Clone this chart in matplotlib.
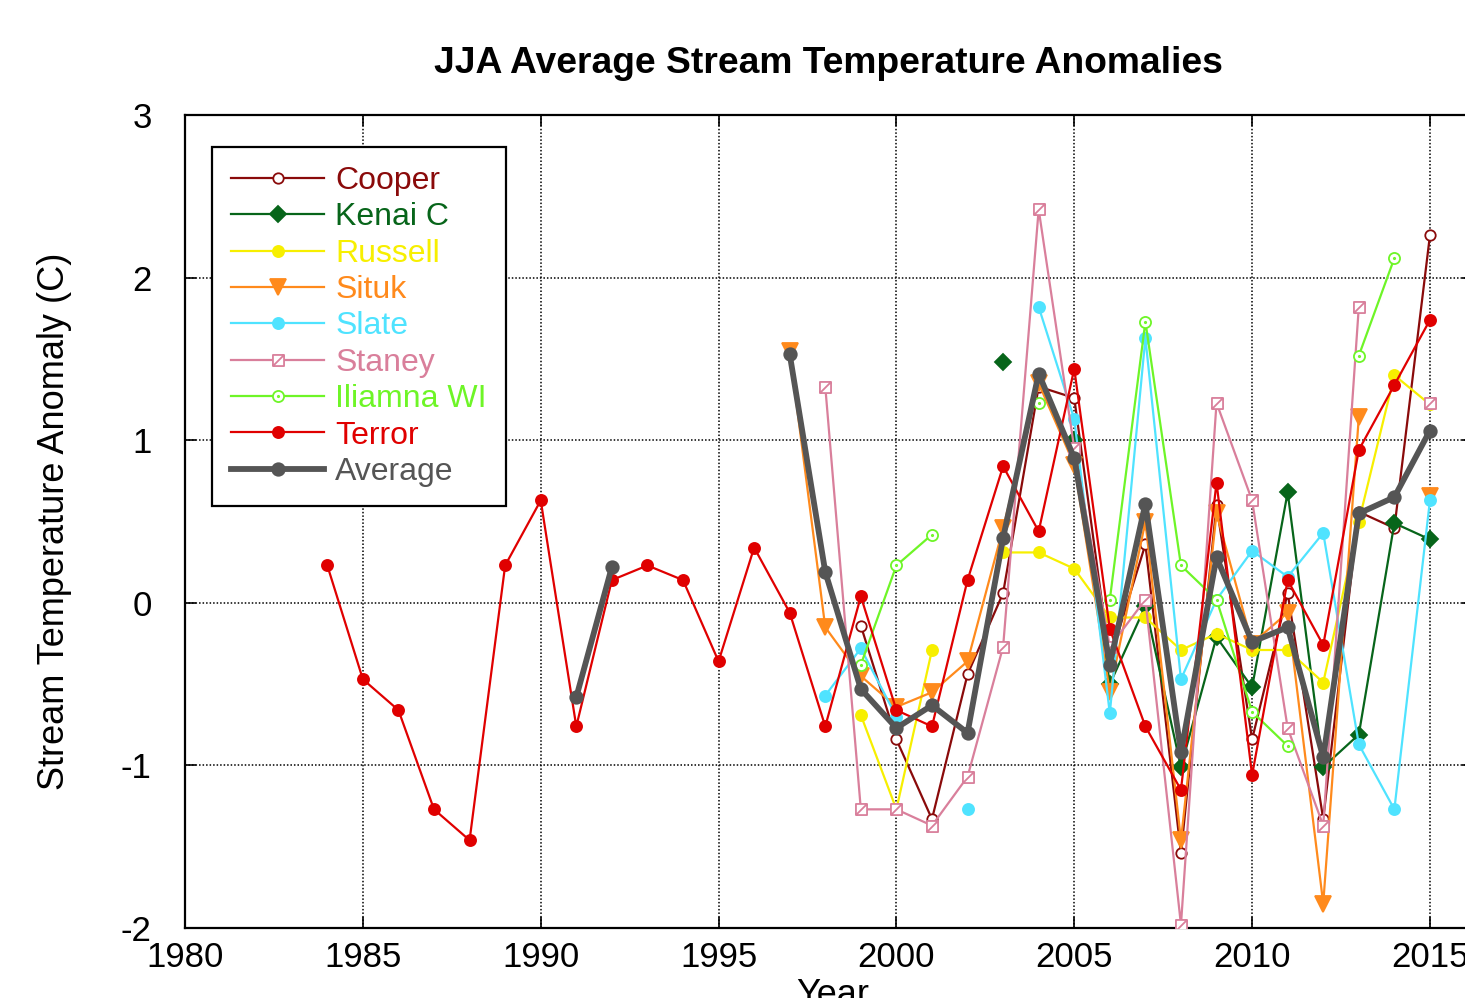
import numpy as np
import matplotlib

matplotlib.use("Agg")
import matplotlib.pyplot as plt
from matplotlib.path import Path

nan = np.nan
years = np.arange(1984, 2016)

# values, one per year 1984..2015 (nan = no data)
cooper = [nan] * 15 + [-0.14, -0.84, -1.33, -0.44, 0.06,
                       1.33, 1.26, -0.35, 0.36, -1.54, 0.60, -0.84, 0.06,
                       -1.33, 0.56, 0.46, 2.26]
kenai = [nan] * 19 + [1.48,
                      nan, 1.00, -0.50, -0.02, -1.01, -0.21, -0.52, 0.68,
                      -1.01, -0.81, 0.49, 0.39]
russell = [nan] * 15 + [-0.69, -1.27, -0.29, nan, 0.31,
                        0.31, 0.21, -0.09, -0.09, -0.29, -0.19, -0.29,
                        -0.29, -0.49, 0.50, 1.40, 1.22]
situk = [nan] * 13 + [1.55, -0.15, -0.45, -0.64, -0.55, -0.36, 0.46,
                      1.35, 0.85, -0.55, 0.50, -1.46, 0.55, -0.25, -0.06,
                      -1.85, 1.14, nan, 0.66]
slate = [nan] * 14 + [-0.57, -0.28, -0.70, nan, -1.27, nan,
                      1.82, 1.13, -0.68, 1.63, -0.47, 0.02, 0.32, 0.16,
                      0.43, -0.87, -1.27, 0.63]
staney = [nan] * 14 + [1.33, -1.27, -1.27, -1.37, -1.07, -0.27,
                       2.42, 0.95, -0.27, 0.02, -1.98, 1.23, 0.63, -0.77,
                       -1.37, 1.82, nan, 1.23]
iliamna = [nan] * 15 + [-0.38, 0.23, 0.42, nan, nan,
                        1.23, nan, 0.02, 1.73, 0.23, 0.02, -0.67, -0.88,
                        nan, 1.52, 2.12, nan]
terror = [0.23, -0.47, -0.66, -1.27, -1.46, 0.23, 0.63, -0.76, 0.14, 0.23,
          0.14, -0.36, 0.34, -0.06, -0.76, 0.04, -0.66, -0.76, 0.14, 0.84,
          0.44, 1.44, -0.16, -0.76, -1.15, 0.74, -1.06, 0.14, -0.26, 0.94,
          1.34, 1.74]
average = [nan] * 7 + [-0.58, 0.22, nan, nan, nan, nan, 1.53, 0.19, -0.53,
                       -0.77, -0.63, -0.80, 0.40, 1.41, 0.89, -0.38, 0.61,
                       -0.92, 0.28, -0.24, -0.15, -0.95, 0.55, 0.65, 1.06]

# markers: open square with a slash, open circle with a centre dot
sq_slash = Path([(-1, -1), (1, -1), (1, 1), (-1, 1), (-1, -1), (-1, -1), (1, 1)],
                [Path.MOVETO, Path.LINETO, Path.LINETO, Path.LINETO,
                 Path.CLOSEPOLY, Path.MOVETO, Path.LINETO])
circ = Path.unit_circle()
dot = Path(circ.vertices * 0.12, circ.codes)
circ_dot = Path.make_compound_path(circ, dot)

series = [
    ("Cooper", cooper, "#8a0a0a", dict(marker="o", mfc="white", ms=7.5)),
    ("Kenai C", kenai, "#07651a", dict(marker="D", ms=8)),
    ("Russell", russell, "#f7ef00", dict(marker="o", ms=8)),
    ("Situk", situk, "#ff8a1c", dict(marker="v", ms=11)),
    ("Slate", slate, "#4fe3ff", dict(marker="o", ms=8)),
    ("Staney", staney, "#d97f9b", dict(marker=sq_slash, mfc="white", ms=8)),
    ("Iliamna WI", iliamna, "#6ef527", dict(marker=circ_dot, mfc="white", ms=8)),
    ("Terror", terror, "#e00000", dict(marker="o", ms=8)),
    ("Average", average, "#555555", dict(marker="o", ms=9)),
]

plt.rcParams["font.family"] = ["Liberation Sans", "DejaVu Sans"]
plt.rcParams["axes.unicode_minus"] = False

fig = plt.figure(figsize=(14.65, 9.98), dpi=100)
# right edge sits just past the picture, as in the cropped original
ax = fig.add_axes([0.1263, 0.0701, 0.8789, 0.8146])

for name, vals, col, mk in series:
    lw = 4.2 if name == "Average" else 1.6
    ax.plot(years, vals, color=col, lw=lw, mec=col, mew=1.3, label=name,
            zorder=3 if name != "Average" else 4, **mk)

ax.set_xlim(1980, 2016.2)
ax.set_ylim(-2, 3)
ax.set_xticks(np.arange(1980, 2016, 5))
ax.set_yticks([-2, -1, 0, 1, 2, 3])
ax.tick_params(direction="in", length=8, width=1.2, labelsize=25,
               top=True, right=True)
ax.tick_params(axis="x", pad=9)
ax.tick_params(axis="y", pad=24)
ax.grid(True, color="black", ls=(0, (1, 1.3)), lw=1.1)
for s in ax.spines.values():
    s.set_linewidth(1.6)

ax.set_title("JJA Average Stream Temperature Anomalies", fontsize=26.8,
             fontweight="bold", pad=30)
ax.set_ylabel("Stream Temperature Anomaly (C)", fontsize=26)
ax.yaxis.set_label_coords(-0.088, 0.5)
ax.set_xlabel("Year", fontsize=26)
ax.xaxis.set_label_coords(0.503, -0.061)

leg = ax.legend(loc="upper left", bbox_to_anchor=(0.021, 0.961),
                borderaxespad=0, fontsize=23, handlelength=2.9,
                labelspacing=0.2, fancybox=False, framealpha=1,
                edgecolor="black", borderpad=0.6, handletextpad=0.35)
leg.get_frame().set_linewidth(1.6)
for t, (name, vals, col, mk) in zip(leg.get_texts(), series):
    t.set_color(col)

fig.savefig("out.png", dpi=100)
